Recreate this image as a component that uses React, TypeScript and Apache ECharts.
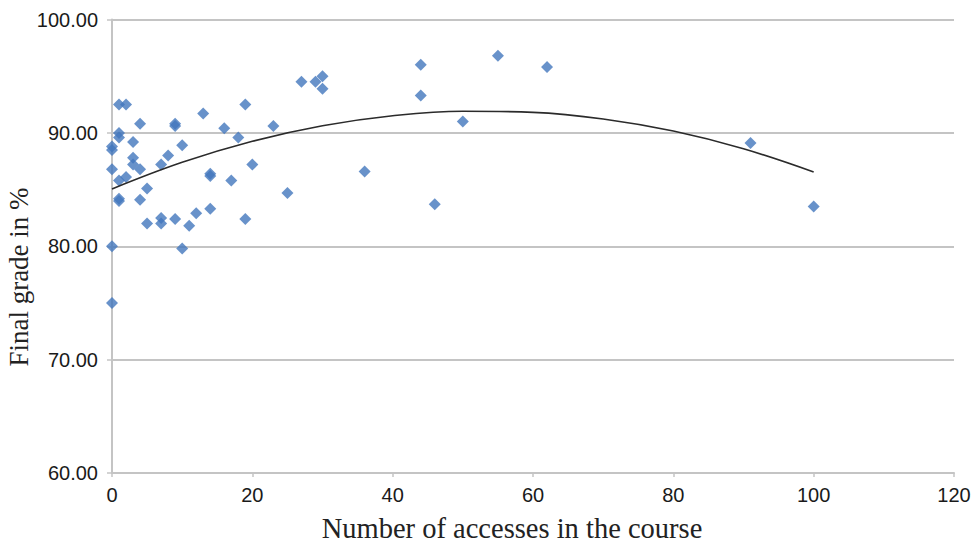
import React, { useEffect, useRef } from "react";
import * as echarts from "echarts";

// Number of accesses (x) and final grade (y) for each student
const accesses = [
  0, 0, 0, 0, 0, 1, 1, 1, 1, 1, 1, 2, 2, 3, 3, 3, 4, 4, 4, 5, 5, 7, 7, 7, 8, 9, 9, 9,
  10, 10, 11, 12, 13, 14, 14, 14, 16, 17, 18, 19, 19, 20, 23, 25, 27, 29, 30, 30, 36,
  44, 44, 46, 50, 55, 62, 91, 100,
];
const grades = [
  88.8, 88.5, 86.8, 80.0, 75.0, 92.5, 90.0, 89.6, 85.8, 84.2, 84.0, 92.5, 86.1, 89.2,
  87.8, 87.2, 90.8, 86.8, 84.1, 85.1, 82.0, 87.2, 82.5, 82.0, 88.0, 90.8, 90.6, 82.4,
  88.9, 79.8, 81.8, 82.9, 91.7, 86.4, 86.2, 83.3, 90.4, 85.8, 89.6, 92.5, 82.4, 87.2,
  90.6, 84.7, 94.5, 94.5, 95.0, 93.9, 86.6, 96.0, 93.3, 83.7, 91.0, 96.8, 95.8, 89.1,
  83.5,
];

// Polynomial trend line
const trendX = [0, 10, 20, 30, 40, 50, 60, 70, 80, 90, 100];
const trendY = [85.05, 87.4, 89.26, 90.63, 91.51, 91.91, 91.81, 91.23, 90.16, 88.6, 86.55];

const xTicks = [0, 20, 40, 60, 80, 100, 120];
const yTicks = [60, 70, 80, 90, 100];

const xTitle = "Number of accesses in the course";
const yTitle = "Final grade in %";

export default function App() {
  const ref = useRef<HTMLDivElement>(null);
  useEffect(() => {
    if (!ref.current) return;
    const chart = echarts.init(ref.current, null, { renderer: "svg" });
    const points = accesses.map((x, i) => [x, grades[i]]);
    const trend = trendX.map((x, i) => [x, trendY[i]]);
    const gridColor = "#c4c4c4";
    chart.setOption({
      animation: false,
      backgroundColor: "#ffffff",
      grid: {
        left: 112,
        right: 18,
        top: 19.5,
        bottom: 70,
        containLabel: false,
        outerBoundsMode: "none",
      },
      graphic: [
        {
          type: "text",
          x: 512,
          y: 528,
          style: {
            text: xTitle,
            fontFamily: "Liberation Serif",
            fontSize: 28.5,
            fill: "#222",
            align: "center",
            verticalAlign: "middle",
          },
        },
        {
          type: "text",
          x: 19,
          y: 277,
          rotation: Math.PI / 2,
          style: {
            text: yTitle,
            fontFamily: "Liberation Serif",
            fontSize: 27,
            fill: "#222",
            align: "center",
            verticalAlign: "middle",
          },
        },
      ],
      xAxis: {
        type: "value",
        min: xTicks[0],
        max: xTicks[xTicks.length - 1],
        interval: 20,
        axisLine: { show: true, lineStyle: { color: gridColor, width: 2 } },
        axisTick: { show: true, length: 4, lineStyle: { color: gridColor, width: 1.5 } },
        axisLabel: {
          margin: 12,
          fontFamily: "Liberation Sans",
          fontSize: 20,
          color: "#1a1a1a",
        },
        splitLine: { show: false },
      },
      yAxis: {
        type: "value",
        min: yTicks[0],
        max: yTicks[yTicks.length - 1],
        interval: 10,
        axisLine: { show: true, lineStyle: { color: gridColor, width: 2 } },
        axisTick: { show: true, length: 5, lineStyle: { color: gridColor, width: 1.5 } },
        axisLabel: {
          margin: 14,
          fontFamily: "Liberation Sans",
          fontSize: 20,
          color: "#1a1a1a",
          formatter: (v: number) => v.toFixed(2),
        },
        splitLine: { show: true, lineStyle: { color: gridColor, width: 2 } },
      },
      series: [
        {
          type: "scatter",
          data: points,
          symbol: "diamond",
          symbolSize: 12,
          itemStyle: { color: "#4277bd" },
          z: 3,
        },
        {
          type: "line",
          data: trend,
          smooth: 0.4,
          showSymbol: false,
          symbol: "none",
          lineStyle: { color: "#2b2b2b", width: 1.6 },
          z: 4,
        },
      ],
    });
    return () => chart.dispose();
  }, []);
  return (
    <div
      ref={ref}
      style={{ position: "absolute", left: 0, top: 0, width: 972, height: 543 }}
    />
  );
}
